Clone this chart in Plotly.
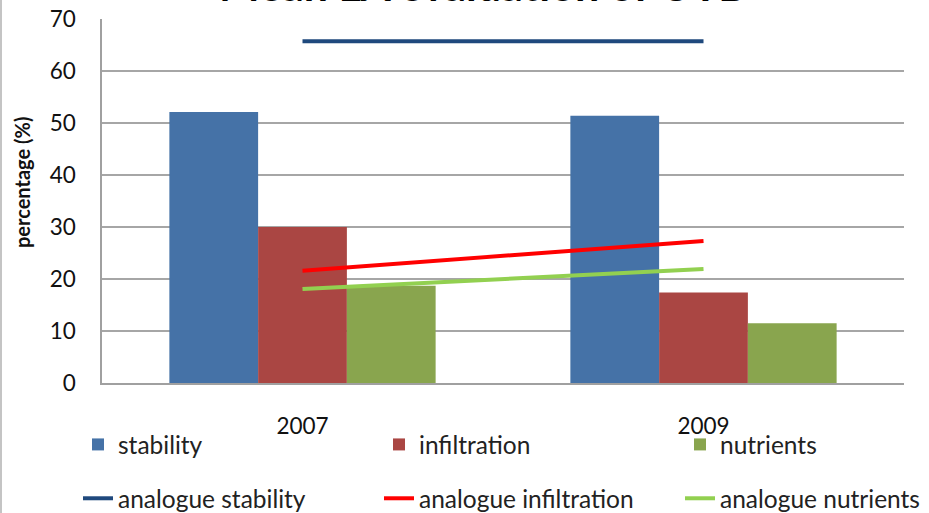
import plotly.graph_objects as go

years = ["2007", "2009"]
stability = [52.1, 51.4]
infiltration = [30.0, 17.4]
nutrients = [18.7, 11.5]
analogue_stability = [65.7, 65.7]
analogue_infiltration = [21.6, 27.3]
analogue_nutrients = [18.1, 21.9]

FONT = "Lato"
L, R, T, B = 102, 25, 19, 130
W, H = 929, 513
PW, PH = W - L - R, H - T - B

fig = go.Figure()
bar_specs = [("stability", stability, "#4572A7", "legend"),
             ("infiltration", infiltration, "#AA4643", "legend2"),
             ("nutrients", nutrients, "#89A54E", "legend3")]
for name, vals, col, lg in bar_specs:
    fig.add_trace(go.Bar(x=years, y=vals, name=name, marker=dict(color=col, line=dict(width=0)),
                         legend=lg, legendgroup=name))
line_specs = [("analogue stability", analogue_stability, "#1F497D", "legend"),
              ("analogue infiltration", analogue_infiltration, "#FF0000", "legend2"),
              ("analogue nutrients", analogue_nutrients, "#92D050", "legend3")]
for name, vals, col, lg in line_specs:
    fig.add_trace(go.Scatter(x=years, y=vals, name=name, mode="lines",
                             line=dict(color=col, width=4), legend=lg, legendgroup=name))

def leg(xpx):
    return dict(orientation="v", xref="container", yref="container",
                x=xpx / W, y=1 - 422 / H, xanchor="left", yanchor="top",
                bgcolor="rgba(0,0,0,0)", font=dict(size=24.5, color="#222222"),
                traceorder="grouped", tracegroupgap=19, itemwidth=30)

fig.update_layout(
    width=W, height=H,
    margin=dict(l=L, r=R, t=T, b=B, autoexpand=False),
    paper_bgcolor="white", plot_bgcolor="white",
    barmode="group", bargap=0.336, bargroupgap=0,
    font=dict(family=FONT, color="#111111", size=20),
    showlegend=True, hovermode=False,
    legend=leg(78), legend2=leg(379), legend3=leg(680),
    annotations=[
        dict(text="<b>Mean LA evaluation of OTD</b>", xref="paper", yref="paper",
             x=0.477, y=1 + 7 / PH, xanchor="center", yanchor="bottom", showarrow=False,
             font=dict(size=43, family=FONT, color="#000000")),
        dict(text="<b>percentage (%)</b>", xref="paper", yref="paper",
             x=(22 - L) / PW, y=(383 - 183) / PH, xanchor="center", yanchor="middle",
             textangle=-90, showarrow=False,
             font=dict(size=20, family=FONT, color="#111111")),
    ],
    shapes=[dict(type="line", xref="paper", yref="paper",
                 x0=(1 - L) / PW, x1=(1 - L) / PW,
                 y0=-B / PH, y1=1 + T / PH,
                 line=dict(color="#B0B0B0", width=1.5))],
)
fig.update_xaxes(type="category", showline=True, linecolor="#A0A0A0", linewidth=1.5,
                 ticks="", ticklabelstandoff=22, tickfont=dict(size=22.5), showgrid=False,
                 automargin=False)
fig.update_yaxes(range=[0, 70], dtick=10, showline=True, linecolor="#A0A0A0", linewidth=1.5,
                 ticks="", ticklabelstandoff=20,
                 gridcolor="#A6A6A6", gridwidth=1.5, zeroline=False,
                 tickfont=dict(size=22.5), automargin=False)

fig.write_html("out.html", config={"displayModeBar": False},
               post_script="document.body.style.margin='0';document.body.style.overflow='hidden';")
